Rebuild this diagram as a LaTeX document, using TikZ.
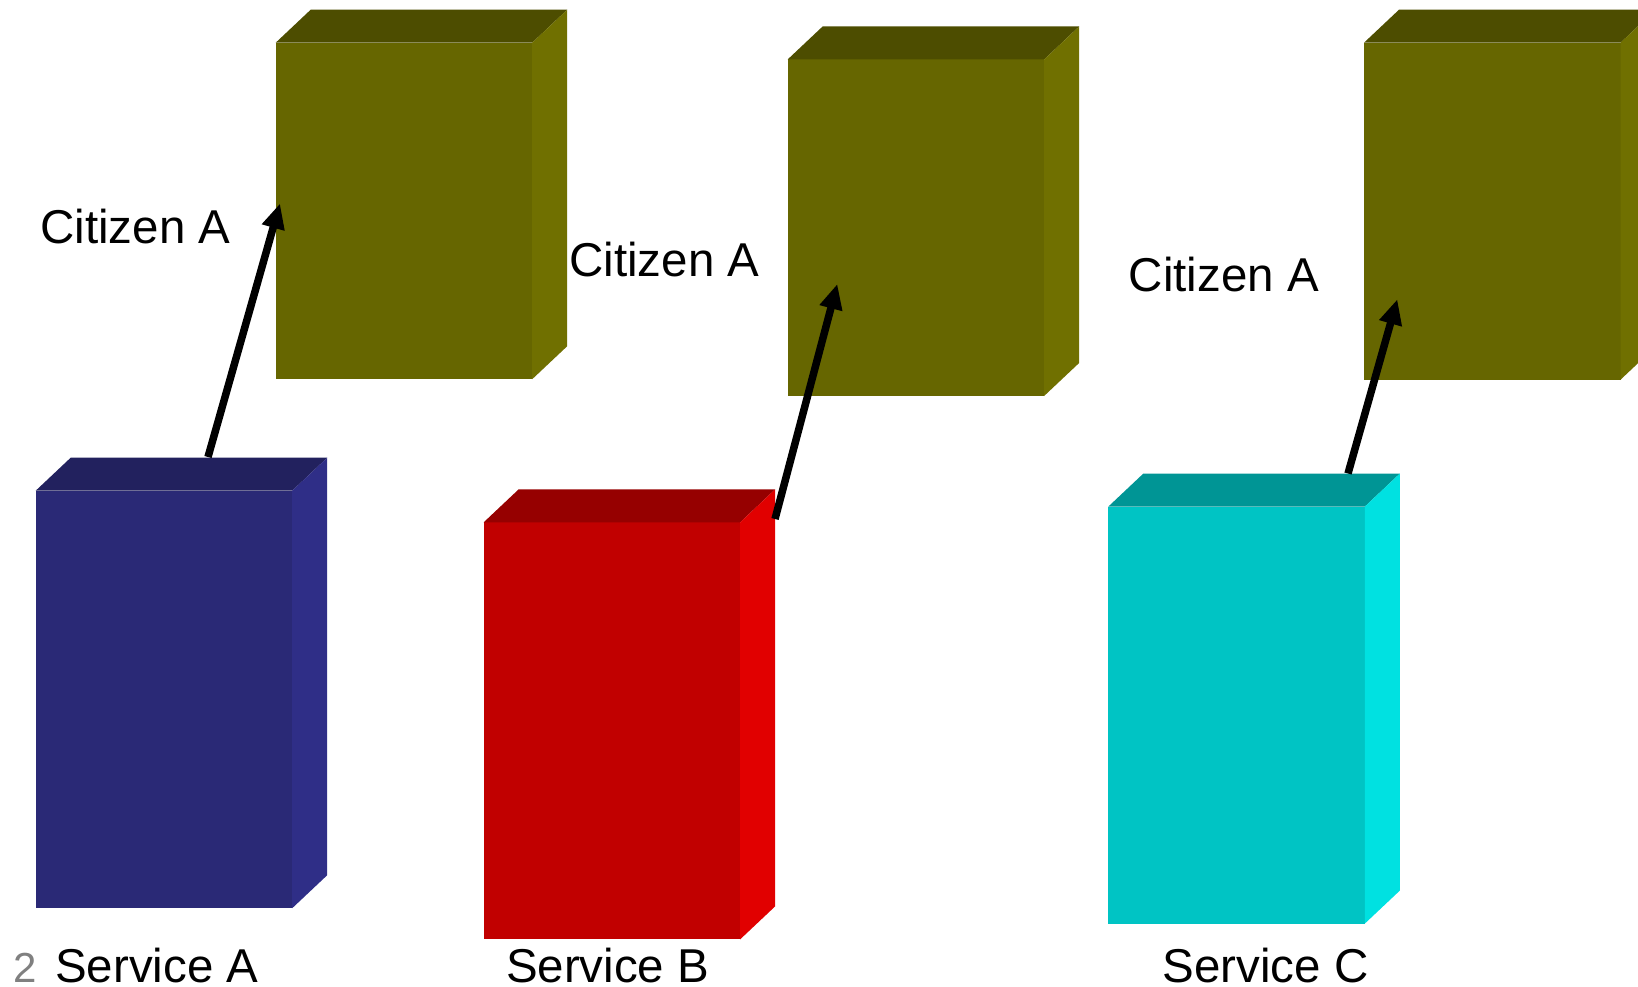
\documentclass[tikz,border=0pt]{standalone}
\usepackage{fontspec}
\setmainfont{Liberation Sans}
\usetikzlibrary{arrows.meta}

\definecolor{blueF}{HTML}{2A2976}
\definecolor{blueT}{HTML}{22215E}
\definecolor{blueS}{HTML}{2F2E87}
\definecolor{oliveF}{HTML}{666600}
\definecolor{oliveT}{HTML}{4D4D00}
\definecolor{oliveS}{HTML}{707000}
\definecolor{redF}{HTML}{C10000}
\definecolor{redT}{HTML}{960000}
\definecolor{redS}{HTML}{E10000}
\definecolor{cyanF}{HTML}{00C4C4}
\definecolor{cyanT}{HTML}{009595}
\definecolor{cyanS}{HTML}{00E1E1}
\definecolor{numgray}{HTML}{808080}

\tikzset{
  face/.style={inner sep=0pt, outer sep=0pt, anchor=north west, draw=none,
               minimum width=256.5pt},
  lbl/.style={anchor=base west, inner sep=0pt, outer sep=0pt,
              font=\fontsize{47.5}{57}\selectfont},
  link/.style={line width=7.5pt, -{Triangle[length=25pt,width=22pt]}},
}

% cuboid: name, x, y (top-left of front face), height, front, top, side colours
\newcommand\cuboid[7]{%
  \node[face, minimum height=#4pt, fill=#5] (#1) at (#2,#3) {};
  \fill[#6] (#1.north west) -- ++(35,-33) -- ++(256.5,0) -- (#1.north east) -- cycle;
  \fill[#7] (#1.north east) -- ++(35,-33) -- ++(0,#4) -- (#1.south east) -- cycle;
}

\begin{document}
\begin{tikzpicture}[x=1pt, y=-1pt]
  \useasboundingbox (0,0) rectangle (1638,987);
  \clip (0,0) rectangle (1638,987);

  % citizen records
  \cuboid{citA}{275.7}{42.7}{336.5}{oliveF}{oliveT}{oliveS}
  \cuboid{citB}{787.6}{59.5}{336.5}{oliveF}{oliveT}{oliveS}
  \cuboid{citC}{1364}{42.7}{337}{oliveF}{oliveT}{oliveS}

  % services
  \cuboid{svcA}{35.7}{490.7}{417.5}{blueF}{blueT}{blueS}
  \cuboid{svcB}{483.7}{522.3}{417}{redF}{redT}{redS}
  \cuboid{svcC}{1108.3}{506.6}{417}{cyanF}{cyanT}{cyanS}

  % labels
  \node[lbl] (lcitA) at (40.4,243.3) {Citizen A};
  \node[lbl] (lcitB) at (569.4,276.7) {Citizen A};
  \node[lbl] (lcitC) at (1128.7,291.7) {Citizen A};

  \node[lbl, font=\fontsize{42}{50}\selectfont, text=numgray] (pg) at (13.5,982) {2};
  \node[lbl] (lsvcA) at (55.2,982) {Service A};
  \node[lbl] (lsvcB) at (506,982) {Service B};
  \node[lbl] (lsvcC) at (1162.7,982) {Service C};

  % connector end points
  \coordinate (a1s) at (208,457);
  \coordinate (a1e) at (280,203.5);
  \coordinate (a2s) at (775,519);
  \coordinate (a2e) at (837.3,284);
  \coordinate (a3s) at (1348,473.5);
  \coordinate (a3e) at (1397.3,299.3);

  \draw[link] (a1s) -- (a1e);
  \draw[link] (a2s) -- (a2e);
  \draw[link] (a3s) -- (a3e);
\end{tikzpicture}
\end{document}
